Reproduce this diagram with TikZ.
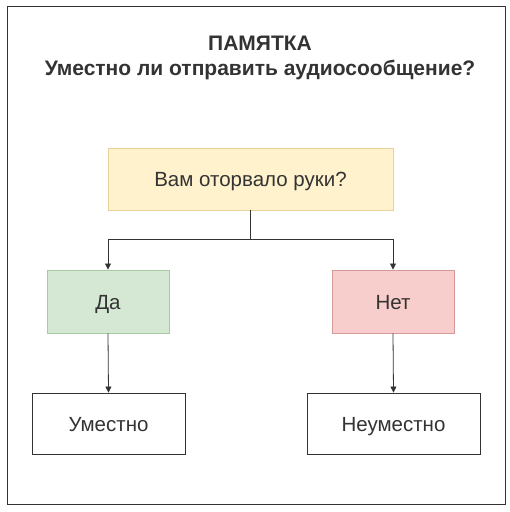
\documentclass[tikz,border=0pt]{standalone}
\usepackage{fontspec}
\setmainfont{Liberation Sans}
\usetikzlibrary{arrows.meta,positioning}
\definecolor{QuestionFill}{HTML}{FFF2CC}
\definecolor{QuestionLine}{HTML}{E6D29A}
\definecolor{YesFill}{HTML}{D5E8D4}
\definecolor{YesLine}{HTML}{A9CBA4}
\definecolor{NoFill}{HTML}{F8CECC}
\definecolor{NoLine}{HTML}{D39A98}
\definecolor{InkGrey}{HTML}{333333}
\tikzset{
  memobox/.style={draw=InkGrey, line width=0.9pt, align=center,
    font=\fontsize{20.5}{23}\selectfont, text=InkGrey, inner sep=0pt,
    text height=15pt, text depth=0pt, fill=white},
  question/.style={memobox, draw=QuestionLine, fill=QuestionFill},
  yesbox/.style={memobox, draw=YesLine, fill=YesFill},
  nobox/.style={memobox, draw=NoLine, fill=NoFill},
  memoarrow/.style={-{Triangle[length=6pt,width=6pt]}, line width=0.8pt, draw=InkGrey},
  titletext/.style={font=\bfseries\fontsize{21}{24}\selectfont, text=InkGrey,
    inner sep=0pt, text height=15pt, text depth=4pt}
}
\begin{document}
\begin{tikzpicture}[x=1pt,y=1pt]
  \useasboundingbox (0,0) rectangle (510,-512);
  \draw[line width=1pt, draw=InkGrey] (7,-6) rectangle (505,-504);
  \node[titletext] (title) at (260,-45) {ПАМЯТКА};
  \node[titletext, below=6pt of title] (subtitle) {Уместно ли отправить аудиосообщение?};
  \node[question, minimum width=285pt, minimum height=62pt] (ask) at (250.5,-179) {Вам оторвало руки?};
  \node[yesbox, minimum width=122pt, minimum height=63pt] (yes) at (108,-301.5) {Да};
  \node[nobox, minimum width=122pt, minimum height=63pt] (no) at (393,-301.5) {Нет};
  \node[memobox, minimum width=153pt, minimum height=61pt] (fine) at (108.5,-423.5) {Уместно};
  \node[memobox, minimum width=173pt, minimum height=61pt] (rude) at (393.5,-423.5) {Неуместно};
  \coordinate (fork) at ([yshift=-29pt]ask.south);
  \draw[memoarrow] (ask.south) -- (fork) -| (yes.north);
  \draw[memoarrow] (fork) -| (no.north);
  \draw[memoarrow] (yes.south) -- (fine.north);
  \draw[memoarrow] (no.south) -- (rude.north);
\end{tikzpicture}
\end{document}
